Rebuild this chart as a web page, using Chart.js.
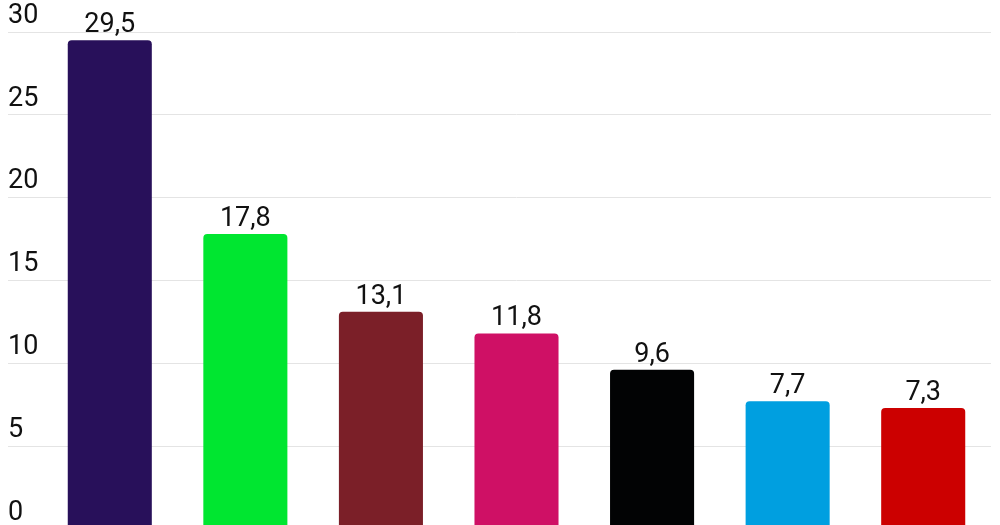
<!DOCTYPE html>
<html>
<head>
<meta charset="utf-8">
<script src="https://cdn.jsdelivr.net/npm/chart.js@4/dist/chart.umd.min.js"></script>
<style>
  html, body { margin: 0; padding: 0; background: #ffffff; overflow: hidden; }
  #wrap { width: 1000px; height: 545px; }
</style>
</head>
<body>
<div id="wrap"><canvas id="c" width="1000" height="545"></canvas></div>
<script>
const categories = ["A", "B", "C", "D", "E", "F", "G"];
const values = [29.5, 17.8, 13.1, 11.8, 9.6, 7.7, 7.3];
const barColors = ["#28105a", "#00e630", "#7b1f28", "#cf1065", "#020304", "#009fe0", "#cc0000"];
const yTicks = [0, 5, 10, 15, 20, 25, 30];

const FONT = "Roboto, 'Noto Sans', sans-serif";
const TEXT = "#111111";

const valueLabels = {
  id: "valueLabels",
  afterDatasetsDraw(chart) {
    const ctx = chart.ctx;
    const meta = chart.getDatasetMeta(0);
    ctx.save();
    ctx.font = "27px " + FONT;
    ctx.fillStyle = TEXT;
    ctx.textAlign = "center";
    ctx.textBaseline = "alphabetic";
    meta.data.forEach((bar, i) => {
      const txt = values[i].toFixed(1).replace(".", ",");
      ctx.fillText(txt, bar.x, bar.y - 8);
    });
    ctx.restore();
  }
};

new Chart(document.getElementById("c"), {
  type: "bar",
  data: {
    labels: categories,
    datasets: [{
      data: values,
      backgroundColor: barColors,
      borderWidth: 0,
      borderRadius: { topLeft: 4, topRight: 4, bottomLeft: 0, bottomRight: 0 },
      borderSkipped: "bottom",
      categoryPercentage: 1.0,
      barPercentage: 0.62
    }]
  },
  options: {
    responsive: false,
    animation: false,
    events: [],
    layout: { padding: { left: 8, right: 9, top: 32, bottom: 12.6 } },
    plugins: { legend: { display: false }, tooltip: { enabled: false }, title: { display: false } },
    scales: {
      x: { display: false },
      y: {
        min: 0,
        max: 30,
        afterBuildTicks(scale) { scale.ticks = yTicks.map(v => ({ value: v })); },
        afterFit(scale) { scale.width = 34; },
        border: { display: false },
        grid: { color: "#e4e4e4", lineWidth: 1, drawTicks: true, tickLength: 34 },
        ticks: {
          crossAlign: "far",
          padding: 0,
          labelOffset: -16,
          color: TEXT,
          font: { family: FONT, size: 27 },
          callback: (v) => String(v)
        }
      }
    }
  },
  plugins: [valueLabels]
});
</script>
</body>
</html>
